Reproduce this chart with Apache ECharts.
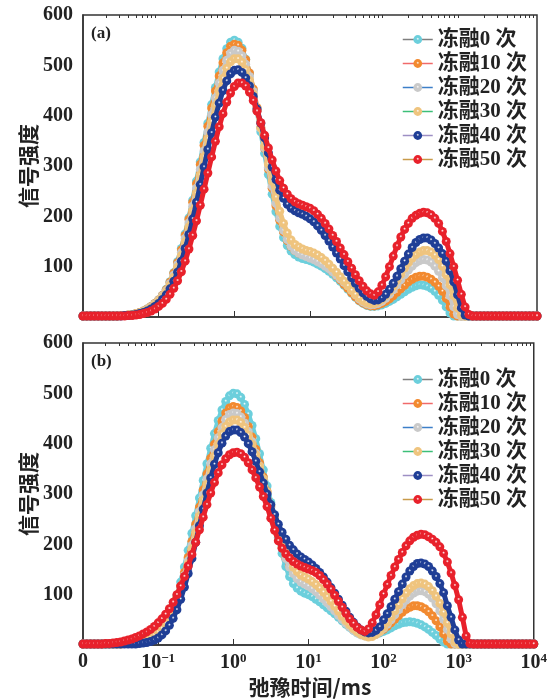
<!DOCTYPE html>
<html>
<head>
<meta charset="utf-8">
<script src="https://cdn.jsdelivr.net/npm/echarts@6/dist/echarts.min.js"></script>
<style>
  html, body { margin: 0; padding: 0; background: #fff; }
  #chart { width: 550px; height: 700px; }
</style>
</head>
<body>
<div id="chart"></div>
<script>
// log10 of relaxation time T2 (ms)
const logT2 = [
  -2, -1.95, -1.9, -1.85, -1.8, -1.75, -1.7, -1.65, -1.6, -1.55,
  -1.5, -1.45, -1.4, -1.35, -1.3, -1.25, -1.2, -1.15, -1.1, -1.05,
  -1, -0.95, -0.9, -0.85, -0.8, -0.75, -0.7, -0.65, -0.6, -0.55,
  -0.5, -0.45, -0.4, -0.35, -0.3, -0.25, -0.2, -0.15, -0.1, -0.05,
  0, 0.05, 0.1, 0.15, 0.2, 0.25, 0.3, 0.35, 0.4, 0.45,
  0.5, 0.55, 0.6, 0.65, 0.7, 0.75, 0.8, 0.85, 0.9, 0.95,
  1, 1.05, 1.1, 1.15, 1.2, 1.25, 1.3, 1.35, 1.4, 1.45,
  1.5, 1.55, 1.6, 1.65, 1.7, 1.75, 1.8, 1.85, 1.9, 1.95,
  2, 2.05, 2.1, 2.15, 2.2, 2.25, 2.3, 2.35, 2.4, 2.45,
  2.5, 2.55, 2.6, 2.65, 2.7, 2.75, 2.8, 2.85, 2.9, 2.95,
  3, 3.05, 3.1, 3.15, 3.2, 3.25, 3.3, 3.35, 3.4, 3.45,
  3.5, 3.55, 3.6, 3.65, 3.7, 3.75, 3.8, 3.85, 3.9, 3.95,
  4
];

const seriesNames = ["冻融0 次", "冻融10 次", "冻融20 次", "冻融30 次", "冻融40 次", "冻融50 次"];
const xTickLabels = ["0", "10{s|−1}", "10{s|0}", "10{s|1}", "10{s|2}", "10{s|3}", "10{s|4}"];
const yTickLabels = ["", "100", "200", "300", "400", "500", "600"];

// panel (a)
const a0 = [
  2, 2, 2, 2, 2, 2, 2, 2, 2, 2,
  3, 3, 4, 5, 7, 9, 12, 16, 21, 27,
  34, 43, 55, 70, 88, 110, 136, 165, 197, 232,
  270, 308, 347, 385, 422, 456, 487, 513, 533, 546,
  550, 546, 534, 512, 484, 450, 410, 368, 325, 283,
  244, 209, 180, 158, 142, 131, 124, 119, 116, 114,
  112, 109, 105, 101, 96, 91, 85, 78, 71, 63,
  55, 47, 39, 32, 27, 23, 21, 21, 22, 24,
  27, 31, 35, 40, 45, 50, 55, 59, 62, 64,
  63, 61, 57, 51, 43, 33, 20, 8, 2, 2,
  2, 2, 2, 2, 2, 2, 2, 2, 2, 2,
  2, 2, 2, 2, 2, 2, 2, 2, 2, 2,
  2
];
const a10 = [
  2, 2, 2, 2, 2, 2, 2, 2, 2, 2,
  3, 3, 4, 5, 7, 9, 12, 16, 21, 27,
  34, 43, 54, 69, 87, 108, 133, 162, 194, 228,
  265, 303, 341, 379, 415, 449, 479, 505, 525, 538,
  542, 540, 530, 511, 485, 453, 416, 376, 335, 294,
  256, 221, 192, 169, 152, 140, 132, 127, 124, 122,
  120, 117, 113, 108, 103, 97, 90, 82, 74, 65,
  57, 48, 40, 33, 28, 24, 22, 22, 24, 27,
  31, 36, 42, 49, 56, 63, 70, 75, 79, 81,
  81, 79, 75, 69, 61, 51, 37, 20, 6, 2,
  2, 2, 2, 2, 2, 2, 2, 2, 2, 2,
  2, 2, 2, 2, 2, 2, 2, 2, 2, 2,
  2
];
const a20 = [
  2, 2, 2, 2, 2, 2, 2, 2, 2, 2,
  3, 3, 4, 5, 6, 8, 11, 15, 20, 26,
  33, 42, 52, 66, 83, 104, 128, 156, 187, 220,
  256, 293, 330, 367, 402, 435, 465, 490, 510, 524,
  530, 528, 519, 502, 478, 448, 413, 375, 336, 297,
  260, 226, 196, 172, 154, 141, 132, 127, 123, 120,
  117, 114, 110, 106, 101, 96, 90, 83, 76, 69,
  62, 53, 44, 36, 30, 26, 24, 25, 27, 31,
  37, 45, 54, 64, 74, 84, 93, 101, 108, 112,
  114, 113, 109, 101, 91, 78, 62, 42, 20, 5,
  2, 2, 2, 2, 2, 2, 2, 2, 2, 2,
  2, 2, 2, 2, 2, 2, 2, 2, 2, 2,
  2
];
const a30 = [
  2, 2, 2, 2, 2, 2, 2, 2, 2, 2,
  3, 3, 4, 5, 6, 8, 11, 14, 19, 25,
  32, 40, 50, 63, 79, 99, 122, 149, 179, 211,
  246, 282, 318, 354, 388, 420, 449, 474, 494, 507,
  513, 513, 506, 491, 470, 443, 411, 376, 340, 304,
  270, 238, 210, 186, 167, 153, 144, 139, 135, 132,
  130, 127, 123, 118, 112, 105, 97, 89, 80, 71,
  62, 53, 45, 38, 32, 28, 26, 27, 30, 35,
  42, 51, 61, 73, 85, 97, 108, 117, 124, 129,
  132, 132, 129, 123, 114, 101, 84, 64, 42, 18,
  4, 2, 2, 2, 2, 2, 2, 2, 2, 2,
  2, 2, 2, 2, 2, 2, 2, 2, 2, 2,
  2
];
const a40 = [
  2, 2, 2, 2, 2, 2, 2, 2, 2, 2,
  2, 3, 3, 4, 5, 7, 9, 12, 16, 21,
  27, 35, 44, 56, 71, 89, 111, 136, 164, 195,
  228, 263, 298, 333, 366, 397, 425, 450, 469, 483,
  490, 491, 486, 475, 459, 438, 413, 385, 356, 326,
  298, 273, 252, 236, 224, 216, 211, 207, 204, 200,
  195, 189, 181, 172, 162, 151, 139, 127, 115, 102,
  90, 78, 67, 57, 48, 41, 36, 33, 34, 38,
  45, 55, 67, 81, 96, 111, 125, 138, 148, 154,
  157, 157, 153, 146, 137, 126, 111, 92, 70, 44,
  18, 4, 2, 2, 2, 2, 2, 2, 2, 2,
  2, 2, 2, 2, 2, 2, 2, 2, 2, 2,
  2
];
const a50 = [
  2, 2, 2, 2, 2, 2, 2, 2, 2, 2,
  2, 2, 3, 3, 4, 5, 7, 9, 12, 16,
  21, 27, 35, 45, 57, 72, 90, 111, 135, 162,
  191, 222, 254, 286, 318, 349, 378, 404, 427, 445,
  458, 465, 465, 459, 447, 430, 409, 386, 361, 336,
  312, 290, 271, 256, 244, 235, 229, 225, 222, 219,
  216, 211, 204, 196, 186, 175, 162, 150, 137, 124,
  110, 97, 84, 72, 61, 52, 46, 43, 50, 63,
  80, 100, 121, 141, 159, 174, 186, 196, 202, 206,
  208, 207, 203, 196, 186, 170, 150, 126, 100, 73,
  45, 20, 5, 2, 2, 2, 2, 2, 2, 2,
  2, 2, 2, 2, 2, 2, 2, 2, 2, 2,
  2
];

// panel (b)
const b0 = [
  2, 2, 2, 2, 2, 2, 2, 2, 2, 2,
  2, 3, 3, 4, 5, 7, 9, 12, 16, 21,
  28, 36, 47, 61, 78, 98, 125, 155, 188, 222,
  257, 292, 327, 360, 391, 420, 446, 467, 484, 495,
  500, 499, 492, 478, 459, 436, 410, 380, 348, 316,
  283, 248, 213, 182, 156, 136, 122, 113, 107, 103,
  100, 96, 91, 86, 80, 74, 68, 62, 55, 48,
  41, 35, 29, 24, 21, 19, 18, 19, 21, 24,
  27, 30, 34, 38, 41, 44, 45, 46, 45, 43,
  40, 36, 31, 25, 19, 12, 6, 2, 2, 2,
  2, 2, 2, 2, 2, 2, 2, 2, 2, 2,
  2, 2, 2, 2, 2, 2, 2, 2, 2, 2,
  2
];
const b10 = [
  2, 2, 2, 2, 2, 2, 2, 2, 2, 2,
  2, 3, 3, 4, 5, 7, 9, 12, 16, 21,
  28, 36, 46, 59, 75, 94, 117, 144, 174, 206,
  240, 274, 308, 340, 371, 399, 424, 445, 461, 471,
  474, 472, 465, 452, 434, 413, 389, 362, 334, 305,
  276, 247, 219, 194, 173, 157, 145, 137, 129, 125,
  121, 116, 110, 103, 96, 88, 80, 71, 62, 53,
  45, 37, 31, 26, 22, 20, 19, 20, 22, 26,
  31, 37, 44, 51, 58, 65, 71, 75, 78, 78,
  76, 72, 66, 58, 48, 36, 22, 8, 2, 2,
  2, 2, 2, 2, 2, 2, 2, 2, 2, 2,
  2, 2, 2, 2, 2, 2, 2, 2, 2, 2,
  2
];
const b20 = [
  2, 2, 2, 2, 2, 2, 2, 2, 2, 2,
  2, 3, 3, 4, 5, 7, 9, 12, 16, 21,
  27, 35, 45, 57, 72, 90, 112, 138, 167, 198,
  231, 265, 298, 330, 360, 388, 412, 432, 448, 458,
  461, 460, 453, 441, 424, 404, 381, 356, 329, 301,
  273, 245, 219, 195, 172, 155, 142, 132, 125, 121,
  117, 112, 106, 99, 92, 84, 76, 68, 59, 51,
  43, 36, 29, 24, 20, 18, 17, 18, 21, 26,
  33, 41, 50, 60, 70, 80, 89, 97, 103, 107,
  108, 106, 101, 93, 82, 68, 51, 31, 12, 3,
  2, 2, 2, 2, 2, 2, 2, 2, 2, 2,
  2, 2, 2, 2, 2, 2, 2, 2, 2, 2,
  2
];
const b30 = [
  2, 2, 2, 2, 2, 2, 2, 2, 2, 2,
  2, 3, 3, 4, 5, 6, 8, 11, 15, 20,
  26, 33, 43, 55, 69, 87, 108, 133, 161, 191,
  223, 256, 288, 319, 348, 375, 399, 419, 434, 443,
  447, 447, 442, 432, 417, 399, 378, 355, 330, 304,
  278, 253, 229, 207, 188, 173, 155, 146, 139, 135,
  131, 126, 120, 113, 105, 96, 87, 77, 67, 57,
  48, 40, 32, 26, 21, 18, 16, 17, 21, 27,
  35, 45, 56, 68, 80, 92, 103, 112, 118, 122,
  123, 121, 116, 108, 97, 83, 65, 44, 22, 6,
  2, 2, 2, 2, 2, 2, 2, 2, 2, 2,
  2, 2, 2, 2, 2, 2, 2, 2, 2, 2,
  2
];
const b40 = [
  2, 2, 2, 2, 2, 2, 2, 2, 2, 2,
  2, 2, 2, 2, 2, 3, 4, 5, 7, 10,
  14, 20, 28, 39, 53, 70, 91, 115, 142, 172,
  204, 237, 270, 302, 332, 359, 382, 401, 415, 424,
  427, 427, 422, 413, 400, 384, 365, 344, 322, 300,
  279, 259, 240, 224, 210, 198, 189, 181, 175, 170,
  165, 159, 152, 144, 135, 125, 114, 103, 91, 79,
  67, 55, 45, 36, 30, 26, 24, 25, 29, 36,
  50, 62, 76, 91, 106, 121, 135, 147, 156, 162,
  163, 161, 156, 147, 136, 122, 104, 78, 55, 30,
  10, 2, 2, 2, 2, 2, 2, 2, 2, 2,
  2, 2, 2, 2, 2, 2, 2, 2, 2, 2,
  2
];
const b50 = [
  2, 2, 2, 2, 2, 2, 3, 3, 4, 5,
  6, 8, 10, 12, 15, 18, 22, 26, 31, 37,
  44, 52, 61, 72, 85, 100, 117, 136, 157, 180,
  204, 229, 254, 279, 302, 323, 342, 358, 370, 378,
  382, 383, 380, 373, 362, 348, 332, 314, 295, 275,
  252, 228, 207, 192, 181, 173, 166, 161, 157, 154,
  151, 148, 144, 138, 130, 121, 111, 99, 87, 75,
  63, 52, 43, 35, 30, 27, 32, 44, 60, 80,
  101, 120, 138, 155, 170, 184, 197, 207, 214, 218,
  220, 219, 215, 210, 204, 195, 182, 165, 143, 118,
  90, 55, 18, 3, 2, 2, 2, 2, 2, 2,
  2, 2, 2, 2, 2, 2, 2, 2, 2, 2,
  2
];

const panelA = [a0, a10, a20, a30, a40, a50];
const panelB = [b0, b10, b20, b30, b40, b50];

const markerColors = ["#6ccfdc", "#f28a30", "#c9c9c9", "#efc47e", "#1f3e96", "#e8212b"];
const legendLineColors = ["#7f7f7f", "#f06a6a", "#3c7fc8", "#3cbf78", "#9d8fc4", "#c89a4a"];

// minor ticks of the log axis: 2..9 times each decade
const minorTicks = [];
for (let d = -2; d < 4; d++) {
  for (let k = 2; k <= 9; k++) minorTicks.push(d + Math.log10(k));
}

const serif = "'Liberation Serif', 'Noto Sans CJK SC', serif";
const ink = "#222";

function ball(c) {
  return {
    type: "radial", x: 0.5, y: 0.42, r: 0.55,
    colorStops: [
      { offset: 0, color: "#ffffff" },
      { offset: 0.3, color: c },
      { offset: 1, color: c }
    ]
  };
}

const grids = [
  { left: 83, top: 15, width: 454, height: 302, show: true, borderColor: "#333", borderWidth: 1.5 },
  { left: 83, top: 343, width: 454, height: 302, show: true, borderColor: "#333", borderWidth: 1.5 }
];

function majorX(gridIndex, showLabels) {
  return {
    type: "value", gridIndex, min: -2, max: 4, interval: 1,
    axisLine: { show: true, onZero: false, lineStyle: { color: "#333", width: 1.5 } },
    axisTick: { show: true, inside: true, length: 6, lineStyle: { color: "#333", width: 1 } },
    splitLine: { show: false },
    axisLabel: {
      show: showLabels, margin: 7, color: ink, fontSize: 20, fontWeight: "bold", fontFamily: serif,
      formatter: (v) => xTickLabels[Math.round(v) + 2],
      rich: { s: { fontSize: 13, fontWeight: "bold", fontFamily: serif, color: ink, verticalAlign: "top", padding: [0, 0, 9, 0] } }
    }
  };
}
function minorX(gridIndex) {
  return {
    type: "value", gridIndex, min: -2, max: 4,
    axisLine: { show: false, onZero: false },
    axisLabel: { show: false },
    splitLine: { show: false },
    axisTick: { show: true, inside: true, length: 3, customValues: minorTicks, lineStyle: { color: "#333", width: 1 } }
  };
}
function yAx(gridIndex) {
  return {
    type: "value", gridIndex, min: 0, max: 600, interval: 100,
    axisLine: { show: true, onZero: false, lineStyle: { color: "#333", width: 1.5 } },
    axisTick: { show: false },
    splitLine: { show: false },
    axisLabel: {
      margin: 10, color: ink, fontSize: 20, fontWeight: "bold", fontFamily: serif,
      formatter: (v) => yTickLabels[Math.round(v / 100)]
    }
  };
}

const series = [];
[panelA, panelB].forEach((panel, p) => {
  panel.forEach((vals, k) => {
    series.push({
      name: seriesNames[k],
      type: "line",
      xAxisIndex: p * 2,
      yAxisIndex: p,
      data: logT2.map((x, i) => [x, vals[i]]),
      symbol: "circle",
      symbolSize: 9,
      showSymbol: true,
      lineStyle: { color: markerColors[k], width: 5 },
      itemStyle: { color: ball(markerColors[k]) },
      z: 2 + k
    });
  });
});

function legendAt(top) {
  return {
    orient: "vertical", left: 397, top,
    itemWidth: 30, itemHeight: 11, itemGap: 3,
    selectedMode: false,
    textStyle: { color: ink, fontSize: 21, fontWeight: "bold", fontFamily: serif, lineHeight: 21 },
    data: seriesNames.map((n, k) => ({
      name: n,
      itemStyle: { color: ball(markerColors[k]) },
      lineStyle: { color: legendLineColors[k], width: 1.5 }
    }))
  };
}

const chart = echarts.init(document.getElementById("chart"), null, { renderer: "canvas" });
chart.setOption({
  animation: false,
  backgroundColor: "#fff",
  grid: grids,
  xAxis: [majorX(0, false), minorX(0), majorX(1, true), minorX(1)],
  yAxis: [yAx(0), yAx(1)],
  legend: [legendAt(24), legendAt(364)],
  series,
  graphic: [
    { type: "text", left: 91, top: 25, style: { text: "(a)", fill: ink, font: "bold 17px " + serif } },
    { type: "text", left: 91, top: 353, style: { text: "(b)", fill: ink, font: "bold 17px " + serif } },
    { type: "text", x: 28, y: 166, rotation: Math.PI / 2,
      style: { text: "信号强度", fill: ink, font: "bold 21px 'Noto Sans CJK SC'", align: "center", verticalAlign: "middle" } },
    { type: "text", x: 28, y: 494, rotation: Math.PI / 2,
      style: { text: "信号强度", fill: ink, font: "bold 21px 'Noto Sans CJK SC'", align: "center", verticalAlign: "middle" } },
    { type: "text", x: 310, y: 687,
      style: { text: "弛豫时间/ms", fill: ink, font: "bold 21px 'Noto Sans CJK SC', 'Liberation Serif'", align: "center", verticalAlign: "middle" } }
  ]
});
</script>
</body>
</html>
